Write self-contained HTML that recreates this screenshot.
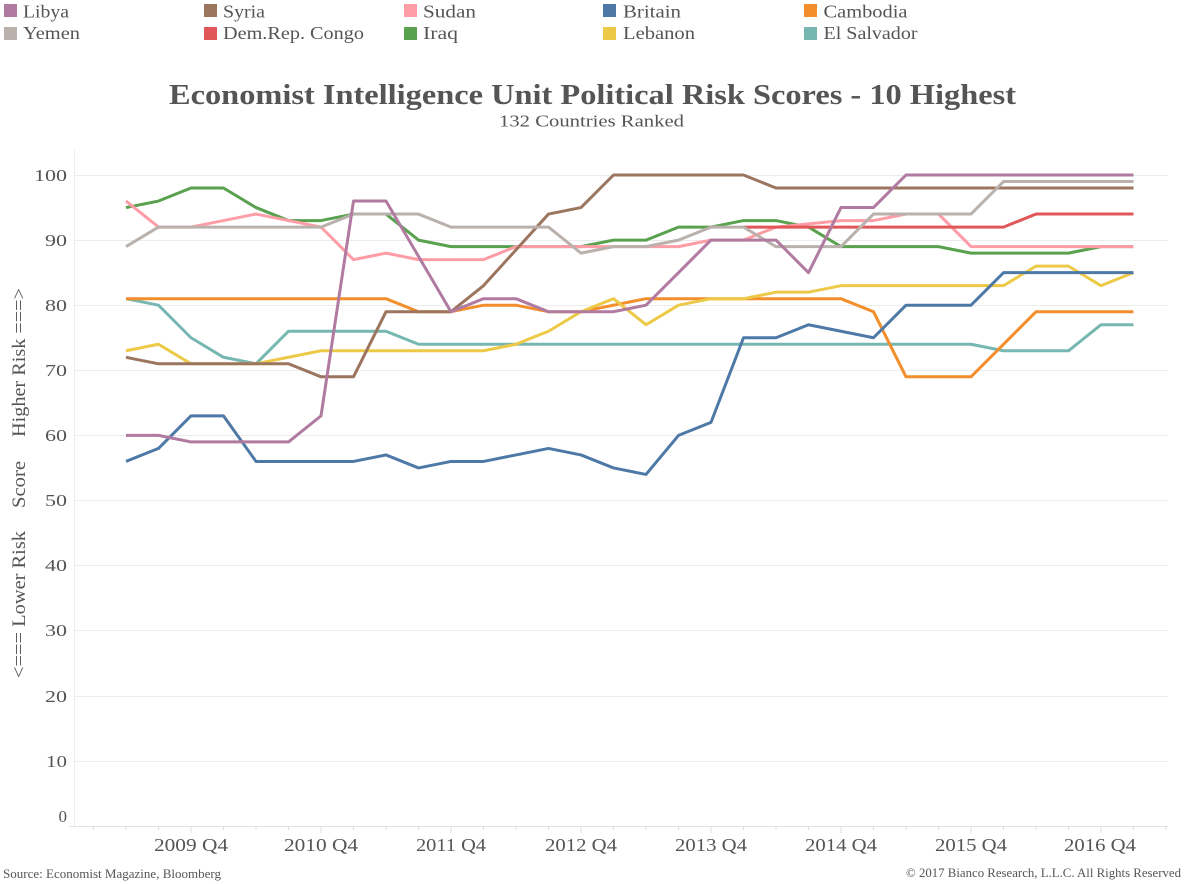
<!DOCTYPE html>
<html>
<head>
<meta charset="utf-8">
<style>
  html, body { margin: 0; padding: 0; background: #ffffff; }
  body { width: 1184px; height: 884px; overflow: hidden; }
  svg { display: block; }
  text { font-family: "Liberation Serif", "DejaVu Serif", serif; fill: #555555; }
</style>
</head>
<body>
<svg width="1184" height="884" viewBox="0 0 1184 884" xmlns="http://www.w3.org/2000/svg">
  <rect x="0" y="0" width="1184" height="884" fill="#ffffff"/>

  <!-- Legend -->
  <g font-size="18">
    <rect x="4" y="4" width="13" height="13" fill="#b07aa1"/>
    <text x="23" y="17.5" textLength="46" lengthAdjust="spacingAndGlyphs">Libya</text>
    <rect x="204" y="4" width="13" height="13" fill="#9c755f"/>
    <text x="223" y="17.5" textLength="42" lengthAdjust="spacingAndGlyphs">Syria</text>
    <rect x="404" y="4" width="13" height="13" fill="#ff9da7"/>
    <text x="423" y="17.5" textLength="53" lengthAdjust="spacingAndGlyphs">Sudan</text>
    <rect x="603" y="4" width="13" height="13" fill="#4e79a7"/>
    <text x="623" y="17.5" textLength="58" lengthAdjust="spacingAndGlyphs">Britain</text>
    <rect x="804" y="4" width="13" height="13" fill="#f28e2b"/>
    <text x="823.5" y="17.5" textLength="84" lengthAdjust="spacingAndGlyphs">Cambodia</text>

    <rect x="4" y="27" width="13" height="13" fill="#bab0ac"/>
    <text x="23" y="39" textLength="57" lengthAdjust="spacingAndGlyphs">Yemen</text>
    <rect x="204" y="27" width="13" height="13" fill="#e15759"/>
    <text x="223" y="39" textLength="141" lengthAdjust="spacingAndGlyphs">Dem.Rep. Congo</text>
    <rect x="404" y="27" width="13" height="13" fill="#59a14f"/>
    <text x="423" y="39" textLength="35" lengthAdjust="spacingAndGlyphs">Iraq</text>
    <rect x="603" y="27" width="13" height="13" fill="#edc948"/>
    <text x="623" y="39" textLength="72" lengthAdjust="spacingAndGlyphs">Lebanon</text>
    <rect x="804" y="27" width="13" height="13" fill="#76b7b2"/>
    <text x="823.5" y="39" textLength="94" lengthAdjust="spacingAndGlyphs">El Salvador</text>
  </g>

  <!-- Title -->
  <text x="169" y="104" font-size="28" font-weight="bold" textLength="847" lengthAdjust="spacingAndGlyphs">Economist Intelligence Unit Political Risk Scores - 10 Highest</text>
  <text x="499" y="126.5" font-size="17" textLength="185" lengthAdjust="spacingAndGlyphs">132 Countries Ranked</text>

  <!-- Gridlines -->
  <g stroke="#ececec" stroke-width="1">
    <line x1="74" y1="175.5" x2="1168" y2="175.5"/>
    <line x1="74" y1="240.5" x2="1168" y2="240.5"/>
    <line x1="74" y1="305.5" x2="1168" y2="305.5"/>
    <line x1="74" y1="370.5" x2="1168" y2="370.5"/>
    <line x1="74" y1="435.5" x2="1168" y2="435.5"/>
    <line x1="74" y1="500.5" x2="1168" y2="500.5"/>
    <line x1="74" y1="565.5" x2="1168" y2="565.5"/>
    <line x1="74" y1="630.5" x2="1168" y2="630.5"/>
    <line x1="74" y1="696.5" x2="1168" y2="696.5"/>
    <line x1="74" y1="761.5" x2="1168" y2="761.5"/>
    <line x1="74.5" y1="150" x2="74.5" y2="826"/>
  </g>
  <!-- X axis line -->
  <line x1="69" y1="826.5" x2="1168" y2="826.5" stroke="#e2e2e2" stroke-width="1"/>

  <!-- X ticks -->
  <g stroke="#dcdcdc" stroke-width="1">
    <line x1="93.5" y1="827" x2="93.5" y2="830"/>
    <line x1="126" y1="827" x2="126" y2="830"/>
    <line x1="158.5" y1="827" x2="158.5" y2="830"/>
    <line x1="191" y1="827" x2="191" y2="833"/>
    <line x1="223.5" y1="827" x2="223.5" y2="830"/>
    <line x1="256" y1="827" x2="256" y2="830"/>
    <line x1="288.5" y1="827" x2="288.5" y2="830"/>
    <line x1="321" y1="827" x2="321" y2="833"/>
    <line x1="353.5" y1="827" x2="353.5" y2="830"/>
    <line x1="386" y1="827" x2="386" y2="830"/>
    <line x1="418.5" y1="827" x2="418.5" y2="830"/>
    <line x1="451" y1="827" x2="451" y2="833"/>
    <line x1="483.5" y1="827" x2="483.5" y2="830"/>
    <line x1="516" y1="827" x2="516" y2="830"/>
    <line x1="548.5" y1="827" x2="548.5" y2="830"/>
    <line x1="581" y1="827" x2="581" y2="833"/>
    <line x1="613.5" y1="827" x2="613.5" y2="830"/>
    <line x1="646" y1="827" x2="646" y2="830"/>
    <line x1="678.5" y1="827" x2="678.5" y2="830"/>
    <line x1="711" y1="827" x2="711" y2="833"/>
    <line x1="743.5" y1="827" x2="743.5" y2="830"/>
    <line x1="776" y1="827" x2="776" y2="830"/>
    <line x1="808.5" y1="827" x2="808.5" y2="830"/>
    <line x1="841" y1="827" x2="841" y2="833"/>
    <line x1="873.5" y1="827" x2="873.5" y2="830"/>
    <line x1="906" y1="827" x2="906" y2="830"/>
    <line x1="938.5" y1="827" x2="938.5" y2="830"/>
    <line x1="971" y1="827" x2="971" y2="833"/>
    <line x1="1003.5" y1="827" x2="1003.5" y2="830"/>
    <line x1="1036" y1="827" x2="1036" y2="830"/>
    <line x1="1068.5" y1="827" x2="1068.5" y2="830"/>
    <line x1="1101" y1="827" x2="1101" y2="833"/>
    <line x1="1133.5" y1="827" x2="1133.5" y2="830"/>
    <line x1="1166" y1="827" x2="1166" y2="830"/>
  </g>

  <!-- Y tick labels -->
  <g font-size="17" text-anchor="end">
    <text x="67" y="181" textLength="33" lengthAdjust="spacingAndGlyphs">100</text>
    <text x="67" y="246" textLength="22" lengthAdjust="spacingAndGlyphs">90</text>
    <text x="67" y="311" textLength="22" lengthAdjust="spacingAndGlyphs">80</text>
    <text x="67" y="376" textLength="22" lengthAdjust="spacingAndGlyphs">70</text>
    <text x="67" y="441" textLength="22" lengthAdjust="spacingAndGlyphs">60</text>
    <text x="67" y="506" textLength="22" lengthAdjust="spacingAndGlyphs">50</text>
    <text x="67" y="571" textLength="22" lengthAdjust="spacingAndGlyphs">40</text>
    <text x="67" y="636" textLength="22" lengthAdjust="spacingAndGlyphs">30</text>
    <text x="67" y="702" textLength="22" lengthAdjust="spacingAndGlyphs">20</text>
    <text x="67" y="767" textLength="21" lengthAdjust="spacingAndGlyphs">10</text>
    <text x="67" y="822">0</text>
  </g>

  <!-- Y axis title (rotated) -->
  <g font-size="19">
    <text transform="translate(25,678) rotate(-90)" x="0" y="0" textLength="147" lengthAdjust="spacingAndGlyphs">&lt;=== Lower Risk</text>
    <text transform="translate(25,508) rotate(-90)" x="0" y="0" textLength="47" lengthAdjust="spacingAndGlyphs">Score</text>
    <text transform="translate(25,437) rotate(-90)" x="0" y="0" textLength="149" lengthAdjust="spacingAndGlyphs">Higher Risk ===&gt;</text>
  </g>

  <!-- X labels -->
  <g font-size="18" text-anchor="middle">
    <text x="191" y="851" textLength="74" lengthAdjust="spacingAndGlyphs">2009 Q4</text>
    <text x="321" y="851" textLength="74" lengthAdjust="spacingAndGlyphs">2010 Q4</text>
    <text x="451" y="851" textLength="70" lengthAdjust="spacingAndGlyphs">2011 Q4</text>
    <text x="581" y="851" textLength="72" lengthAdjust="spacingAndGlyphs">2012 Q4</text>
    <text x="711" y="851" textLength="72" lengthAdjust="spacingAndGlyphs">2013 Q4</text>
    <text x="841" y="851" textLength="72" lengthAdjust="spacingAndGlyphs">2014 Q4</text>
    <text x="971" y="851" textLength="72" lengthAdjust="spacingAndGlyphs">2015 Q4</text>
    <text x="1100" y="851" textLength="72" lengthAdjust="spacingAndGlyphs">2016 Q4</text>
  </g>

  <!-- Series (drawn lowest-ranked first so top-ranked sits on top) -->
  <g transform="translate(126,826) scale(32.5,-6.51)" fill="none" stroke-width="3" stroke-linejoin="round" stroke-linecap="butt">
    <!-- El Salvador -->
    <polyline vector-effect="non-scaling-stroke" stroke="#76b7b2" points="0,81 1,80 2,75 3,72 4,71 5,76 6,76 7,76 8,76 9,74 10,74 11,74 12,74 13,74 14,74 15,74 16,74 17,74 18,74 19,74 20,74 21,74 22,74 23,74 24,74 25,74 26,74 27,73 28,73 29,73 30,77 31,77"/>
    <!-- Cambodia -->
    <polyline vector-effect="non-scaling-stroke" stroke="#f28e2b" points="0,81 1,81 2,81 3,81 4,81 5,81 6,81 7,81 8,81 9,79 10,79 11,80 12,80 13,79 14,79 15,80 16,81 17,81 18,81 19,81 20,81 21,81 22,81 23,79 24,69 25,69 26,69 27,74 28,79 29,79 30,79 31,79"/>
    <!-- Lebanon -->
    <polyline vector-effect="non-scaling-stroke" stroke="#edc948" points="0,73 1,74 2,71 3,71 4,71 5,72 6,73 7,73 8,73 9,73 10,73 11,73 12,74 13,76 14,79 15,81 16,77 17,80 18,81 19,81 20,82 21,82 22,83 23,83 24,83 25,83 26,83 27,83 28,86 29,86 30,83 31,85"/>
    <!-- Britain -->
    <polyline vector-effect="non-scaling-stroke" stroke="#4e79a7" points="0,56 1,58 2,63 3,63 4,56 5,56 6,56 7,56 8,57 9,55 10,56 11,56 12,57 13,58 14,57 15,55 16,54 17,60 18,62 19,75 20,75 21,77 22,76 23,75 24,80 25,80 26,80 27,85 28,85 29,85 30,85 31,85"/>
    <!-- Iraq -->
    <polyline vector-effect="non-scaling-stroke" stroke="#59a14f" points="0,95 1,96 2,98 3,98 4,95 5,93 6,93 7,94 8,94 9,90 10,89 11,89 12,89 13,89 14,89 15,90 16,90 17,92 18,92 19,93 20,93 21,92 22,89 23,89 24,89 25,89 26,88 27,88 28,88 29,88 30,89 31,89"/>
    <!-- Sudan -->
    <polyline vector-effect="non-scaling-stroke" stroke="#ff9da7" points="0,96 1,92 2,92 3,93 4,94 5,93 6,92 7,87 8,88 9,87 10,87 11,87 12,89 13,89 14,89 15,89 16,89 17,89 18,90 19,90 20,92 21,92.5 22,93 23,93 24,94 25,94 26,89 27,89 28,89 29,89 30,89 31,89"/>
    <!-- Dem.Rep. Congo -->
    <polyline vector-effect="non-scaling-stroke" stroke="#e15759" points="19,92 20,92 21,92 22,92 23,92 24,92 25,92 26,92 27,92 28,94 29,94 30,94 31,94"/>
    <!-- Syria -->
    <polyline vector-effect="non-scaling-stroke" stroke="#9c755f" points="0,72 1,71 2,71 3,71 4,71 5,71 6,69 7,69 8,79 9,79 10,79 11,83 12,88.5 13,94 14,95 15,100 16,100 17,100 18,100 19,100 20,98 21,98 22,98 23,98 24,98 25,98 26,98 27,98 28,98 29,98 30,98 31,98"/>
    <!-- Yemen -->
    <polyline vector-effect="non-scaling-stroke" stroke="#bab0ac" points="0,89 1,92 2,92 3,92 4,92 5,92 6,92 7,94 8,94 9,94 10,92 11,92 12,92 13,92 14,88 15,89 16,89 17,90 18,92 19,92 20,89 21,89 22,89 23,94 24,94 25,94 26,94 27,99 28,99 29,99 30,99 31,99"/>
    <!-- Libya -->
    <polyline vector-effect="non-scaling-stroke" stroke="#b07aa1" points="0,60 1,60 2,59 3,59 4,59 5,59 6,63 7,96 8,96 9,87.5 10,79 11,81 12,81 13,79 14,79 15,79 16,80 17,85 18,90 19,90 20,90 21,85 22,95 23,95 24,100 25,100 26,100 27,100 28,100 29,100 30,100 31,100"/>
  </g>

  <!-- Footer -->
  <text x="3" y="878" font-size="13" textLength="218" lengthAdjust="spacingAndGlyphs">Source: Economist Magazine, Bloomberg</text>
  <text x="906" y="877" font-size="13" textLength="275" lengthAdjust="spacingAndGlyphs">© 2017 Bianco Research, L.L.C. All Rights Reserved</text>
</svg>
</body>
</html>
